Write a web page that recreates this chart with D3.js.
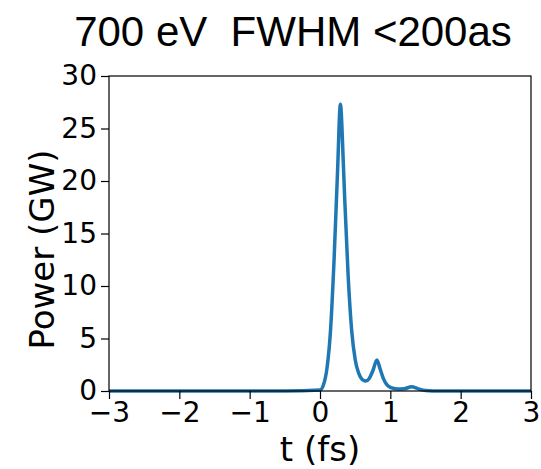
<!DOCTYPE html>
<html>
<head>
<meta charset="utf-8">
<script src="https://cdn.jsdelivr.net/npm/d3@7"></script>
<style>
  body { margin: 0; background: #fff; }
  text { font-family: "DejaVu Sans", sans-serif; fill: #000; }
</style>
</head>
<body>
<div id="chart"></div>
<script>
// data
var timeFs = [-3, -2, -1, -0.5, 0, 0.05, 0.1, 0.15, 0.2, 0.25, 0.29, 0.33, 0.35, 0.4, 0.45, 0.5, 0.55, 0.6, 0.65, 0.7, 0.75, 0.81, 0.85, 0.9, 0.95, 1.0, 1.1, 1.2, 1.3, 1.4, 1.5, 1.7, 2, 3];
var powerGW = [0, 0, 0, 0, 0.1, 0.6, 2.2, 5.8, 12.5, 21, 27.3, 22, 18.5, 11, 5.8, 3.0, 1.7, 1.1, 0.95, 1.2, 1.9, 2.95, 2.2, 1.2, 0.6, 0.35, 0.2, 0.22, 0.4, 0.2, 0.05, 0, 0, 0];
var xTicks = [-3, -2, -1, 0, 1, 2, 3];
var yTicks = [0, 5, 10, 15, 20, 25, 30];

var width = 541;
var height = 469;
var margin = {top: 76, right: 10, bottom: 78, left: 109};

var svg = d3.select('#chart')
    .append('svg')
    .attr('width', width)
    .attr('height', height);

var x = d3.scaleLinear().domain([-3, 3]).range([margin.left, width - margin.right]);
var y = d3.scaleLinear().domain([0, 30]).range([height - margin.bottom, margin.top]);

// title (two spaces kept)
svg.append('text')
    .attr('x', 293)
    .attr('y', 46)
    .attr('xml:space', 'preserve')
    .style('white-space', 'pre')
    .style('font-family', '"Liberation Sans", Arial, sans-serif')
    .style('font-size', '42px')
    .style('text-anchor', 'middle')
    .text('700 eV  FWHM <200as');

// line
var points = timeFs.map(function(t, i) { return [t, powerGW[i]]; });
var line = d3.line()
    .x(d => x(d[0]))
    .y(d => y(d[1]))
    .curve(d3.curveMonotoneX);

svg.append('path')
    .datum(points)
    .attr('d', line)
    .attr('fill', 'none')
    .attr('stroke', '#1f77b4')
    .attr('stroke-width', 3.5)
    .attr('stroke-linejoin', 'round');

// axes
var xAxis = svg.append('g')
    .attr('transform', 'translate(0,' + y(0) + ')')
    .call(d3.axisBottom(x).tickValues(xTicks).tickSize(8).tickPadding(3)
        .tickFormat(d => d < 0 ? '\u2212' + Math.abs(d) : d));
var yAxis = svg.append('g')
    .attr('transform', 'translate(' + x(-3) + ',0)')
    .call(d3.axisLeft(y).tickValues(yTicks).tickSize(8).tickPadding(4));

[xAxis, yAxis].forEach(function(a) {
    a.select('.domain').remove();
    a.selectAll('line').attr('stroke', '#000').attr('stroke-width', 1.2);
    a.selectAll('text').style('font-size', '28px').style('font-family', '"DejaVu Sans", sans-serif');
});

// frame
svg.append('rect')
    .attr('x', x(-3))
    .attr('y', y(30))
    .attr('width', x(3) - x(-3))
    .attr('height', y(0) - y(30))
    .attr('fill', 'none')
    .attr('stroke', '#000')
    .attr('stroke-width', 1.2);

// axis labels
svg.append('text')
    .attr('x', (x(-3) + x(3)) / 2)
    .attr('y', 461)
    .style('font-size', '34px')
    .style('text-anchor', 'middle')
    .text('t (fs)');

svg.append('text')
    .attr('transform', 'translate(54,' + ((y(0) + y(30)) / 2 + 16) + ') rotate(-90)')
    .style('font-size', '34px')
    .style('text-anchor', 'middle')
    .text('Power (GW)');
</script>
</body>
</html>
